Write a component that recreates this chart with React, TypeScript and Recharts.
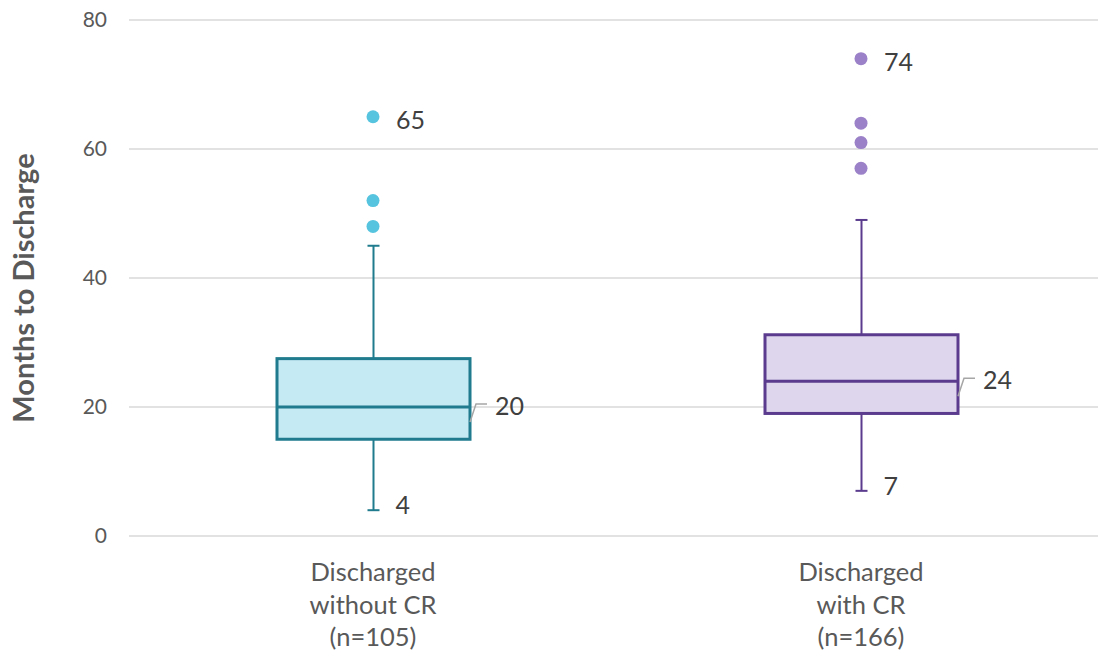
import React from 'react';
import { ComposedChart, Bar, Line, XAxis, YAxis, CartesianGrid, LabelList } from 'recharts';

// ---- data ----
const categories = ['without', 'with'];
const categoryLines = [
  ['Discharged', 'without CR', '(n=105)'],
  ['Discharged', 'with CR', '(n=166)'],
];
const mins = [4, 7];
const q1s = [15, 19];
const medians = [20, 24];
const q3s = [27.5, 31.2];
const maxs = [45, 49];
const outliers = [
  [48, 52, 65],
  [57, 61, 64, 74],
];
const yTicks = [0, 20, 40, 60, 80];
const yTitle = 'Months to Discharge';

// ---- styles ----
const boxFill = ['#c6eaf3', '#ddd6ec'];
const boxStroke = ['#1f7b8d', '#5a3b8d'];
const dotFill = ['#56c4de', '#9b81c8'];
const labelColor = '#404040';
const axisText = '#595959';
const leaderColor = '#a6a6a6';
const FONT = 'Lato, "Open Sans", sans-serif';

const rows = categories.map((c, i) => {
  const sorted = [...outliers[i]].sort((a, b) => a - b);
  const top = sorted[sorted.length - 1];
  const others = sorted.slice(0, -1);
  return {
    cat: c,
    i,
    min: mins[i],
    q1: q1s[i],
    median: medians[i],
    q3: q3s[i],
    max: maxs[i],
    o0: others[0],
    o1: others[1],
    o2: others[2],
    top,
  };
});

const BoxShape = (props: any) => {
  const { x, y, width, height, payload } = props;
  if (x == null || y == null) return null;
  const top = Math.min(y, y + height);
  const h = Math.abs(height);
  const lo = payload.min;
  const hi = payload.max;
  const k = h / (hi - lo);
  const yOf = (v: number) => top + (hi - v) * k;
  const cx = x + width / 2;
  const i = payload.i;
  const stroke = boxStroke[i];
  const yMed = yOf(payload.median);
  const R = x + width;
  return (
    <g>
      <line x1={cx} x2={cx} y1={yOf(payload.q3)} y2={yOf(payload.max)} stroke={stroke} strokeWidth={2} />
      <line x1={cx - 6} x2={cx + 6} y1={yOf(payload.max)} y2={yOf(payload.max)} stroke={stroke} strokeWidth={2} />
      <line x1={cx} x2={cx} y1={yOf(payload.q1)} y2={yOf(payload.min)} stroke={stroke} strokeWidth={2} />
      <line x1={cx - 6} x2={cx + 6} y1={yOf(payload.min)} y2={yOf(payload.min)} stroke={stroke} strokeWidth={2} />
      <rect
        x={x}
        y={yOf(payload.q3)}
        width={width}
        height={yOf(payload.q1) - yOf(payload.q3)}
        fill={boxFill[i]}
        stroke={stroke}
        strokeWidth={3}
      />
      <line x1={x} x2={R} y1={yMed} y2={yMed} stroke={stroke} strokeWidth={3} />
      <polyline
        points={`${R},${yMed + 15} ${R + 6},${yMed - 3} ${R + 17},${yMed - 3}`}
        fill="none"
        stroke={leaderColor}
        strokeWidth={1.5}
      />
      <text x={R + 25} y={yMed - 2} fill={labelColor} fontSize={25} dominantBaseline="central">
        {payload.median}
      </text>
      <text x={cx + 22} y={yOf(payload.min) - 6} fill={labelColor} fontSize={25} dominantBaseline="central">
        {payload.min}
      </text>
    </g>
  );
};

const OutlierDot = (props: any) => {
  const { cx, cy, payload, index, dataKey } = props;
  const k = `${dataKey}-${index}`;
  if (cx == null || cy == null || isNaN(cy) || payload[dataKey] == null) return <g key={k} />;
  return <circle key={k} cx={cx} cy={cy} r={6.5} fill={dotFill[payload.i]} />;
};

const TopLabel = (props: any) => {
  const { x, y, value } = props;
  if (x == null || y == null || value == null) return null;
  return (
    <text x={x + 23} y={y + 2} fill={labelColor} fontSize={25} dominantBaseline="central">
      {value}
    </text>
  );
};

const CatTick = (props: any) => {
  const { x, y, index } = props;
  const lines = categoryLines[index] || [];
  return (
    <g>
      {lines.map((t, j) => (
        <text key={j} x={x} y={y + 45 + j * 32.5} textAnchor="middle" fill={axisText} fontSize={25.5}>
          {t}
        </text>
      ))}
    </g>
  );
};

const YTitle = (props: any) => {
  const vb = props.viewBox || { x: 0, y: 20, width: 129, height: 516 };
  const cx = vb.x + 22;
  const cy = vb.y + vb.height / 2 + 10;
  return (
    <text
      x={cx}
      y={cy}
      transform={`rotate(-90, ${cx}, ${cy})`}
      textAnchor="middle"
      dominantBaseline="central"
      fill={axisText}
      fontSize={29}
      fontWeight={700}
    >
      {yTitle}
    </text>
  );
};

export default function App() {
  return (
    <div
      style={{
        position: 'absolute',
        left: 0,
        top: 0,
        width: 1098,
        height: 656,
        overflow: 'hidden',
        background: '#ffffff',
        fontFamily: FONT,
      }}
    >
      <ComposedChart
        width={1110}
        height={656}
        data={rows}
        margin={{ top: 20, right: 5, bottom: 0, left: 0 }}
        style={{ fontFamily: FONT }}
      >
        <CartesianGrid vertical={false} stroke="#d9d9d9" strokeWidth={1.5} />
        <XAxis
          dataKey="cat"
          height={120}
          axisLine={false}
          tickLine={false}
          tickSize={0}
          tickMargin={0}
          interval={0}
          tick={<CatTick />}
        />
        <YAxis
          type="number"
          domain={[0, 80]}
          ticks={yTicks}
          width={129}
          axisLine={false}
          tickLine={false}
          tickSize={0}
          tickMargin={22}
          tick={{ fill: axisText, fontSize: 21 }}
          label={{ content: (p: any) => <YTitle {...p} /> }}
        />
        <Bar
          dataKey={(d: any) => [d.min, d.max]}
          barSize={193}
          shape={(p: any) => <BoxShape {...p} />}
          isAnimationActive={false}
        />
        {['o0', 'o1', 'o2'].map((k) => (
          <Line
            key={k}
            dataKey={k}
            stroke="none"
            dot={(p: any) => <OutlierDot {...p} dataKey={k} />}
            activeDot={false}
            isAnimationActive={false}
            legendType="none"
          />
        ))}
        <Line
          dataKey="top"
          stroke="none"
          dot={(p: any) => <OutlierDot {...p} dataKey="top" />}
          activeDot={false}
          isAnimationActive={false}
          legendType="none"
        >
          <LabelList dataKey="top" content={(p: any) => <TopLabel {...p} />} />
        </Line>
      </ComposedChart>
    </div>
  );
}
